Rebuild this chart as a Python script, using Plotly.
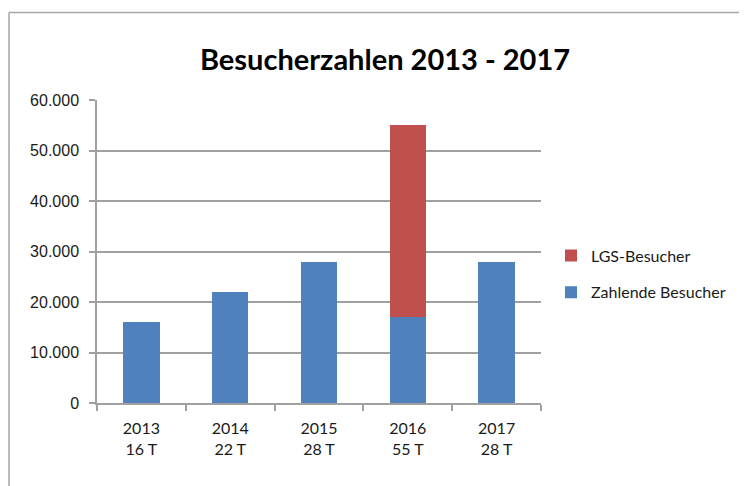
import plotly.graph_objects as go

categories = ["2013<br>16 T", "2014<br>22 T", "2015<br>28 T", "2016<br>55 T", "2017<br>28 T"]
zahlende = [16000, 22000, 28000, 17000, 28000]
lgs = [0, 0, 0, 38000, 0]
y_ticks = [0, 10000, 20000, 30000, 40000, 50000, 60000]

W, H = 747, 486
OFF = 8  # page body margin
# plot area in page pixels
PX0, PX1, PY0, PY1 = 97, 541, 100, 403
L, T = PX0 - OFF, PY0 - OFF
R, B = W - PX1 + OFF, H - PY1 + OFF
pw, ph = PX1 - PX0, PY1 - PY0

def px_x(x):
    return (x - PX0) / pw

def px_y(y):
    return (PY1 - y) / ph

fig = go.Figure()
fig.add_trace(go.Bar(x=categories, y=zahlende, name="Zahlende Besucher",
                     marker=dict(color="#4F81BD", line=dict(width=0)),
                     legendgroup="a", legendrank=2))
fig.add_trace(go.Bar(x=categories, y=lgs, name="LGS-Besucher",
                     marker=dict(color="#C0504D", line=dict(width=0)),
                     legendgroup="b", legendrank=1))

fig.update_layout(
    width=W, height=H,
    margin=dict(l=L, r=R, t=T, b=B, autoexpand=False),
    paper_bgcolor="white", plot_bgcolor="white",
    barmode="stack", bargap=0.59,
    separators=",.",
    title=dict(text="<b>Besucherzahlen 2013 - 2017</b>", x=(385 - OFF) / W, xanchor="center",
               y=1 - (60 - OFF) / H, yanchor="middle",
               font=dict(family="Lato", size=29, color="black")),
    font=dict(family="Lato", color="black"),
    legend=dict(x=px_x(551), xanchor="left", y=px_y(274), yanchor="middle",
                traceorder="grouped", tracegroupgap=13,
                font=dict(family="Lato", size=16, color="#1a1a1a"),
                bgcolor="rgba(0,0,0,0)"),
    showlegend=True,
)
fig.update_xaxes(
    showline=True, linecolor="#A0A0A0", linewidth=1.5,
    ticks="outside", tickson="boundaries", ticklen=6, tickcolor="#A0A0A0", tickwidth=1.5,
    tickfont=dict(family="Lato", size=16, color="#1a1a1a"),
    ticklabelstandoff=10,
    showgrid=False, fixedrange=True,
)
fig.update_yaxes(
    range=[0, 60000], tickvals=y_ticks, tickformat=",d",
    showline=True, linecolor="#A0A0A0", linewidth=1.5,
    ticks="outside", ticklen=6, tickcolor="#A0A0A0", tickwidth=1.5,
    showgrid=True, gridcolor="#A0A0A0", gridwidth=1.5,
    tickfont=dict(family="Liberation Sans", size=16, color="#1a1a1a"),
    ticklabelstandoff=7,
    zeroline=False, fixedrange=True,
)

# outer chart frame (cropped at right and bottom)
FX, FY = OFF + 1, 12.5
fig.add_shape(type="line", xref="paper", yref="paper",
              x0=px_x(FX), x1=px_x(W + 20), y0=px_y(FY), y1=px_y(FY),
              line=dict(color="#A6A6A6", width=1.5))
fig.add_shape(type="line", xref="paper", yref="paper",
              x0=px_x(FX), x1=px_x(FX), y0=px_y(FY), y1=px_y(H + 20),
              line=dict(color="#A6A6A6", width=1.5))

fig.write_html("out.html")
